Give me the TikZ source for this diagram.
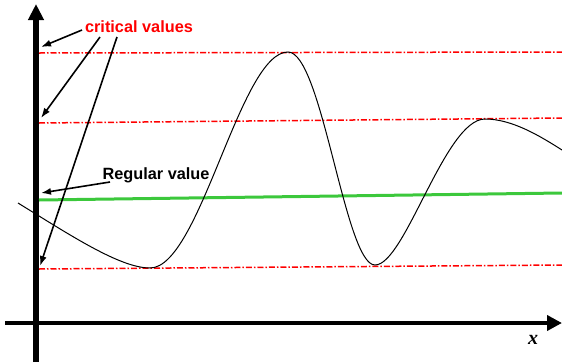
\documentclass[tikz,border=0pt]{standalone}
\usepackage{fontspec}
\setmainfont{Liberation Sans}
\usetikzlibrary{arrows.meta}
\begin{document}
\begin{tikzpicture}[x=1pt,y=-1pt,
  vaxis/.style={line width=6pt,-{Triangle[length=16pt,width=15pt]}},
  haxis/.style={line width=4.5pt,-{Triangle[length=15pt,width=15pt]}},
  critline/.style={red,line width=1.5pt,dash pattern=on 6pt off 2pt on 1.5pt off 2pt},
  regline/.style={line width=3pt,color={rgb,255:red,60;green,200;blue,60}},
  pointer/.style={line width=1.6pt,-{Latex[length=10pt,width=7pt]}},
  lbl/.style={font=\bfseries\fontsize{16.3}{19}\selectfont,inner sep=1pt}]
\useasboundingbox (0,0) rectangle (562,362);
% axes
\coordinate (ybot) at (36,362);
\coordinate (ytop) at (36,4);
\coordinate (xl) at (5,323);
\coordinate (xr) at (562,323);
\draw[haxis] (xl) -- (xr);
\draw[vaxis] (ybot) -- (ytop);
\node[font=\fontspec{Liberation Serif}\bfseries\itshape\fontsize{20}{22}\selectfont] (xlab) at (533,340) {x};
% horizontal lines
\coordinate (c1l) at (39,53); \coordinate (c1r) at (562,52);
\coordinate (c2l) at (39,123); \coordinate (c2r) at (562,118);
\coordinate (c3l) at (39,269); \coordinate (c3r) at (562,265);
\coordinate (gl) at (39,200); \coordinate (gr) at (562,193);
\draw[critline] (c1l) -- (c1r);
\draw[critline] (c2l) -- (c2r);
\draw[critline] (c3l) -- (c3r);
\draw[regline] (gl) -- (gr);
% curve
\draw[line width=1pt] (18,203) .. controls (70,235) and (120,268) .. (150,268)
  .. controls (200,268) and (240,52) .. (288,52)
  .. controls (322,52) and (345,265) .. (375,265)
  .. controls (405,265) and (445,119) .. (485,119)
  .. controls (512,119) and (540,136) .. (562,150);
% labels
\node[lbl,text=red] (crit) at (139,27) {critical values};
\node[lbl] (reg) at (156,175) {Regular value};
\coordinate (t1) at (41,47);
\coordinate (t2) at (41,118);
\coordinate (t3) at (40,266);
\coordinate (t4) at (41,193);
\draw[pointer] (82,30) -- (t1);
\draw[pointer] (100,37) -- (t2);
\draw[pointer] (117,37) -- (t3);
\draw[pointer] (110,182) -- (t4);
\end{tikzpicture}
\end{document}
